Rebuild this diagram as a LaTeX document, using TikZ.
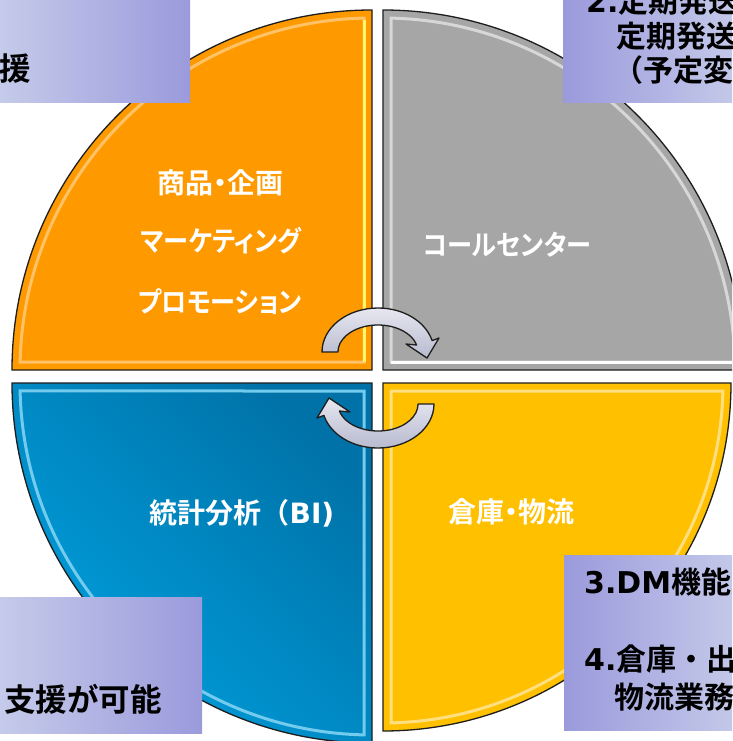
\documentclass[tikz,border=0pt]{standalone}
\usepackage{fontspec}
\newfontfamily\cjk[BoldFont={* Bold}]{Noto Sans CJK JP}
\newfontfamily\cjkp[BoldFont={* Bold},RawFeature=+palt]{Noto Sans CJK JP}
\newfontfamily\cjkk[BoldFont={* Bold},RawFeature=+palt,FakeStretch=0.9]{Noto Sans CJK JP}
\newfontfamily\lat{DejaVu Sans}
\definecolor{qorange}{HTML}{FF9900}
\definecolor{qgray}{HTML}{A6A6A6}
\definecolor{qyellow}{HTML}{FFC000}
\definecolor{qblueL}{HTML}{00A0DE}
\definecolor{qblueD}{HTML}{0072A8}
\definecolor{boxL}{HTML}{C6CCEA}
\definecolor{boxD}{HTML}{9B9ADC}
\definecolor{arrL}{HTML}{E6E7F0}
\definecolor{arrD}{HTML}{B8BACF}
\definecolor{edge}{HTML}{1E1E1E}
\tikzset{
  quad/.style={draw=edge, line width=1.3pt},
  bevel/.style={draw=#1, line width=3pt},
  qtext/.style={text=white, font={\cjkp\bfseries\fontsize{28}{30}\selectfont}, inner sep=0pt},
  ktext/.style={text=white, font={\cjkk\bfseries\fontsize{28}{30}\selectfont}, inner sep=0pt},
  btext/.style={text=black, font={\cjk\bfseries\fontsize{30}{32}\selectfont}, inner sep=0pt, anchor=west},
  bigtext/.style={btext, font={\cjk\bfseries\fontsize{31.5}{33}\selectfont}},
  arrowshape/.style={top color=arrL, bottom color=arrD, draw=edge, line width=1.3pt, line join=round},
}
\begin{document}
\begin{tikzpicture}[x=1pt,y=-1pt]
\useasboundingbox (0,0) rectangle (732,741);
\fill[white] (0,0) rectangle (732,741);
\clip (0,0) rectangle (732,741);
% quadrants
\fill[qorange] (372,370) -- (12,370) arc[start angle=180,end angle=270,radius=360] -- cycle;
\draw[bevel=qorange!60!white] (364,362) -- (20.1,362) arc[start angle=181.3,end angle=268.7,radius=352] -- cycle;
\draw[line width=3pt, draw=yellow!60!white] (364,362) -- (364,20);
\draw[quad] (372,370) -- (12,370) arc[start angle=180,end angle=270,radius=360] -- cycle;
\fill[qgray] (383,370) -- (383,10) arc[start angle=270,end angle=360,radius=360] -- cycle;
\draw[bevel=qgray!45!white] (391,362) -- (391,18.1) arc[start angle=271.3,end angle=358.7,radius=352] -- cycle;
\draw[line width=3pt, draw=white] (391,362) -- (735,362);
\draw[quad] (383,370) -- (383,10) arc[start angle=270,end angle=360,radius=360] -- cycle;
\shade[top color=qblueD, bottom color=qblueL, shading angle=-45] (372,383) -- (372,743) arc[start angle=90,end angle=180,radius=360] -- cycle;
\draw[bevel=qblueL!55!white] (364,391) -- (364,734.9) arc[start angle=91.3,end angle=178.7,radius=352] -- cycle;
\draw[quad] (372,383) -- (372,743) arc[start angle=90,end angle=180,radius=360] -- cycle;
\fill[qyellow] (383,383) -- (731,383) arc[start angle=0,end angle=90,radius=348] -- cycle;
\draw[bevel=qyellow!50!white] (391,391) -- (722.9,391) arc[start angle=1.35,end angle=88.65,radius=340] -- cycle;
\draw[quad] (383,383) -- (731,383) arc[start angle=0,end angle=90,radius=348] -- cycle;
% quadrant texts
\node[qtext] (q1a) at (220,183) {商品・企画};
\node[ktext] (q1b) at (221,241) {マーケティング};
\node[ktext] (q1c) at (220,302) {プロモーション};
\node[ktext] (q2) at (507,245) {コールセンター};
\node[qtext] (q3) at (242,513) {統計分析{\cjk （}{\lat BI)}};
\node[qtext] (q4) at (511,512) {倉庫・物流};
% cycle arrows
\path[arrowshape] (322,352) arc[start angle=180,end angle=345,x radius=56,y radius=44]
  -- (439,338) -- (427,358) -- (406,344) -- (416.6,345)
  arc[start angle=345,end angle=180,x radius=40,y radius=27] -- cycle;
\begin{scope}[rotate around={180:(378,378)}]
\path[arrowshape] (322,352) arc[start angle=180,end angle=345,x radius=56,y radius=44]
  -- (439,338) -- (427,358) -- (406,344) -- (416.6,345)
  arc[start angle=345,end angle=180,x radius=40,y radius=27] -- cycle;
\end{scope}
% text boxes
\shade[left color=boxL, right color=boxD] (-5,-5) rectangle (190,103);
\shade[left color=boxD, right color=boxL] (563,-5) rectangle (745,103);
\shade[left color=boxL, right color=boxD] (-5,597) rectangle (202,733);
\shade[left color=boxD, right color=boxL] (564,555) rectangle (745,730);
\node[bigtext] (tl1) at (-1,69) {援};
\node[btext] (tr1) at (586,1) {{\lat 2.}定期発送};
\node[btext] (tr2) at (616,36) {定期発送};
\node[btext] (tr3) at (613,70) {（予定変};
\node[bigtext] (bl1) at (4,699) {支援が可能};
\node[btext] (br1) at (584,582) {{\lat 3.DM}機能};
\node[btext] (br2) at (584,659) {{\lat 4.}倉庫・出};
\node[btext] (br3) at (614,697) {物流業務};
\end{tikzpicture}
\end{document}
